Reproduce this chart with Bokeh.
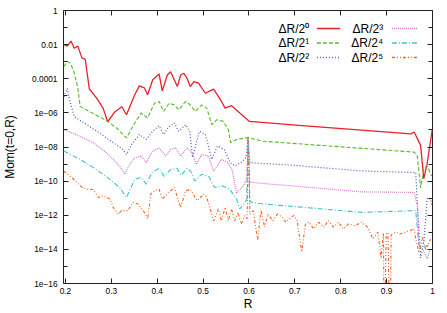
import numpy as np
from bokeh.plotting import figure
from bokeh.models import FixedTicker, LinearAxis, LogAxis, Label, Arrow, Range1d
from bokeh.embed import file_html
from bokeh.resources import INLINE

# ---------------- data (log10 of Mom(t=0,R)) ----------------
r0 = [0.1963, 0.204, 0.212, 0.219, 0.227, 0.236, 0.243, 0.252, 0.268, 0.282, 0.292, 0.308,
      0.323, 0.333, 0.351, 0.361, 0.372, 0.379, 0.390, 0.404, 0.411, 0.422, 0.429, 0.444,
      0.451, 0.458, 0.465, 0.472, 0.480, 0.490, 0.505, 0.512, 0.523, 0.530, 0.540, 0.548,
      0.562, 0.580, 0.601, 0.716, 0.953, 0.960, 0.974, 0.981, 0.988, 0.9994]
m0 = [-2.00, -2.09, -1.79, -2.21, -2.09, -2.79, -2.85, -4.60, -5.14, -5.72, -6.52, -5.93,
      -5.64, -6.11, -4.94, -4.42, -4.54, -4.94, -4.07, -3.72, -4.71, -3.78, -3.59, -4.46,
      -3.78, -3.68, -3.97, -4.46, -4.17, -4.26, -4.85, -4.75, -4.61, -4.90, -5.33, -5.72,
      -5.58, -6.01, -6.50, -6.75, -7.23, -7.12, -7.89, -9.85, -9.02, -7.00]

r1 = [0.1963, 0.204, 0.212, 0.219, 0.227, 0.232, 0.292, 0.312, 0.333, 0.353, 0.365, 0.379,
      0.394, 0.404, 0.414, 0.426, 0.437, 0.447, 0.462, 0.472, 0.483, 0.497, 0.508, 0.519,
      0.530, 0.544, 0.555, 0.560, 0.573, 0.594, 0.609, 0.630, 0.960, 0.967, 0.974, 0.981,
      0.988, 0.998]
m1 = [-3.30, -2.98, -3.14, -3.67, -4.54, -5.62, -6.50, -6.90, -7.47, -6.50, -6.01, -6.30,
      -5.43, -5.33, -5.92, -5.43, -5.53, -5.82, -5.33, -5.53, -5.92, -5.53, -5.72, -6.69,
      -6.40, -6.50, -6.98, -7.75, -7.56, -7.46, -7.52, -7.66, -8.30, -8.55, -10.40, -9.30,
      -9.10, -9.70]

r2 = [0.1963, 0.204, 0.209, 0.215, 0.219, 0.270, 0.325, 0.333, 0.344, 0.361, 0.376, 0.390,
      0.404, 0.414, 0.424, 0.437, 0.447, 0.462, 0.471, 0.477, 0.492, 0.505, 0.519, 0.531,
      0.546, 0.559, 0.570, 0.583, 0.594, 0.598, 0.602, 0.630, 0.695, 0.845, 0.9634, 0.9705,
      0.9742, 0.9813, 0.9886, 0.9957, 0.9994]
m2 = [-5.06, -4.57, -5.24, -5.82, -6.22, -7.10, -8.14, -8.44, -7.85, -7.27, -7.56, -7.08,
      -6.75, -7.27, -6.86, -6.59, -7.08, -6.69, -7.10, -8.61, -7.08, -7.27, -8.73, -7.95,
      -8.14, -8.92, -9.11, -8.90, -8.61, -7.37, -8.92, -8.96, -9.07, -9.40, -9.50, -12.97,
      -14.50, -13.50, -11.00, -11.05, -11.50]

r3 = [0.1963, 0.230, 0.261, 0.290, 0.318, 0.329, 0.340, 0.351, 0.365, 0.376, 0.389, 0.404,
      0.419, 0.429, 0.440, 0.451, 0.465, 0.476, 0.485, 0.497, 0.512, 0.523, 0.540, 0.553,
      0.563, 0.573, 0.587, 0.595, 0.598, 0.602, 0.630, 0.695, 0.845, 0.9598, 0.9671, 0.9705,
      0.9778, 0.9886, 0.9957]
m3 = [-6.98, -7.35, -7.75, -8.35, -9.11, -9.60, -9.02, -8.63, -8.53, -8.92, -8.26, -8.06,
      -8.53, -8.14, -8.05, -8.53, -8.05, -8.34, -9.02, -8.44, -8.53, -9.42, -8.73, -8.90,
      -9.31, -10.70, -10.30, -9.90, -7.37, -10.06, -10.14, -10.28, -10.63, -10.66, -11.44, -13.77,
      -13.96, -14.54, -13.96]

r4 = [0.1963, 0.230, 0.261, 0.290, 0.318, 0.333, 0.351, 0.365, 0.376, 0.389, 0.404, 0.415,
      0.430, 0.443, 0.452, 0.465, 0.473, 0.482, 0.497, 0.512, 0.525, 0.542, 0.558, 0.573,
      0.580, 0.591, 0.595, 0.598, 0.602, 0.609, 0.630, 0.695, 0.845, 0.9634, 0.9705, 0.9778,
      0.9886, 0.9957]
m4 = [-8.24, -8.70, -9.21, -9.75, -10.37, -10.96, -9.89, -9.79, -10.18, -9.48, -9.25, -9.72,
      -9.31, -9.25, -9.66, -9.25, -9.42, -10.00, -9.60, -9.72, -10.37, -10.28, -10.47, -11.05,
      -11.63, -11.25, -11.10, -7.37, -11.20, -11.25, -11.34, -11.48, -11.83, -11.73, -13.77, -13.96,
      -13.77, -13.77]

r5 = [0.1963, 0.218, 0.236, 0.247, 0.261, 0.272, 0.282, 0.297, 0.304, 0.315, 0.322, 0.336,
      0.347, 0.358, 0.372, 0.379, 0.386, 0.394, 0.404, 0.411, 0.426, 0.437, 0.451, 0.462,
      0.472, 0.487, 0.501, 0.508, 0.523, 0.533, 0.540, 0.548, 0.555, 0.562, 0.569, 0.576,
      0.583, 0.591, 0.596, 0.598, 0.602, 0.609, 0.612, 0.619, 0.626, 0.634, 0.641, 0.652,
      0.662, 0.673, 0.680, 0.691, 0.698, 0.705, 0.715, 0.723, 0.731, 0.741, 0.752, 0.763,
      0.773, 0.784, 0.795, 0.806, 0.817, 0.831, 0.845, 0.858, 0.870, 0.881, 0.888, 0.893,
      0.895, 0.899, 0.903, 0.907, 0.910, 0.920, 0.930, 0.940, 0.950, 0.9598, 0.9634, 0.9705,
      0.9778, 0.9849, 0.9957]
m5 = [-9.41, -9.89, -10.37, -10.47, -10.51, -10.96, -10.86, -11.05, -11.54, -11.93, -11.73, -11.73,
      -11.25, -11.34, -11.83, -12.22, -10.76, -10.57, -10.47, -11.05, -10.66, -10.37, -11.54, -10.57,
      -10.47, -11.15, -10.76, -10.96, -12.32, -11.63, -12.32, -11.54, -12.32, -11.63, -12.32, -11.83,
      -12.51, -12.02, -12.20, -7.37, -11.93, -11.73, -12.22, -13.48, -11.63, -12.70, -11.93, -12.32,
      -11.93, -12.12, -12.41, -12.12, -12.02, -12.32, -14.15, -12.51, -12.41, -12.80, -12.41, -12.70,
      -12.32, -12.70, -12.41, -12.80, -12.51, -12.61, -12.41, -12.68, -13.38, -12.99, -14.54, -13.03,
      -20.0, -13.10, -13.00, -20.0, -13.15, -13.00, -13.10, -13.00, -12.90, -12.80, -13.38, -14.20,
      -13.30, -14.00, -13.40]

series_r = [r0, r1, r2, r3, r4, r5]
series_m = [m0, m1, m2, m3, m4, m5]
series_labels = ["ΔR/2⁰", "ΔR/2¹", "ΔR/2²", "ΔR/2³", "ΔR/2⁴", "ΔR/2⁵"]

x_ticks = [0.2, 0.3, 0.4, 0.5, 0.6, 0.7, 0.8, 0.9, 1.0]
x_tick_labels = ["0.2", "0.3", "0.4", "0.5", "0.6", "0.7", "0.8", "0.9", "1"]
y_ticks = [1.0, 1e-2, 1e-4, 1e-6, 1e-8, 1e-10, 1e-12, 1e-14, 1e-16]
y_tick_labels = ["1", "0.01", "0.0001", "1e\u221206", "1e\u221208", "1e\u221210",
                 "1e\u221212", "1e\u221214", "1e\u221216"]
y_minor = [1e-1, 1e-3, 1e-5, 1e-7, 1e-9, 1e-11, 1e-13, 1e-15]

# ---------------- styles ----------------
colors = ["#e8202a", "#5cb82e", "#4658c0", "#d070d0", "#3fbfcf", "#f0602a"]
dashes = ["solid", "4 2", "1 2", "1 1", "5 2 1 2", "3 2 1 2 1 2"]
widths = [1.3, 1.1, 1.2, 1.1, 1.1, 1.1]
FONT = "Liberation Sans"

p = figure(width=447, height=313, x_range=Range1d(0.1957, 1.0), y_range=Range1d(1e-16, 1.0),
           y_axis_type="log", output_backend="svg", toolbar_location=None,
           min_border_left=58, min_border_right=15, min_border_top=10, min_border_bottom=28)
p.styles = {"position": "absolute", "left": "0px", "top": "0px"}
p.grid.visible = False
p.outline_line_color = "#222222"
p.outline_line_width = 1
p.background_fill_color = "white"
p.border_fill_color = "white"

for r, m, c, d, w in zip(series_r, series_m, colors, dashes, widths):
    p.line(np.array(r), 10.0 ** np.array(m), line_color=c, line_dash=d, line_width=w)

xt = FixedTicker(ticks=x_ticks)
yt = FixedTicker(ticks=y_ticks, minor_ticks=y_minor)

xa = p.xaxis[0]
xa.ticker = xt
xa.major_label_overrides = {v: s for v, s in zip(x_ticks, x_tick_labels)}
ya = p.yaxis[0]
ya.ticker = yt
ya.major_label_overrides = {v: s for v, s in zip(y_ticks, y_tick_labels)}
xa.axis_label = "R"
ya.axis_label = "Mom(t=0,R)"

top = LinearAxis(ticker=xt)
right = LogAxis(ticker=yt)
p.add_layout(top, "above")
p.add_layout(right, "right")

for ax in [xa, ya, top, right]:
    ax.axis_line_color = None
    ax.major_tick_in = 5
    ax.major_tick_out = 0
    ax.minor_tick_in = 4
    ax.minor_tick_out = 0
    ax.major_tick_line_color = "#222222"
    ax.minor_tick_line_color = "#222222"
    ax.major_label_text_font = FONT
    ax.major_label_text_font_size = "8.3px"
    ax.major_label_text_color = "black"
    ax.axis_label_text_font = FONT
    ax.axis_label_text_font_size = "12px"
    ax.axis_label_text_font_style = "normal"
    ax.axis_label_text_color = "black"
for ax in [top, right]:
    ax.major_label_text_font_size = "2px"
    ax.major_label_text_color = None
    ax.major_label_standoff = 0
xa.major_label_standoff = 4
ya.major_label_standoff = 6
xa.axis_label_standoff = 0
ya.axis_label_standoff = 12

# ---------------- legend (gnuplot style: text, then sample) ----------------
# frame-relative screen coordinates
rows = [255, 240.5, 226]
cols_text = [245.7, 319.7]
cols_line = [(253.4, 276.7), (328.4, 353.4)]
for i in range(6):
    col, row = divmod(i, 3)
    p.add_layout(Label(x=cols_text[col], y=rows[row], x_units="screen", y_units="screen",
                       text=series_labels[i], text_align="right", text_baseline="middle",
                       text_font=FONT, text_font_size="12px", text_color="black"))
    x0, x1 = cols_line[col]
    p.add_layout(Arrow(x_start=x0, y_start=rows[row], x_end=x1, y_end=rows[row],
                       start_units="screen", end_units="screen", start=None, end=None,
                       line_color=colors[i], line_dash=dashes[i],
                       line_width=widths[i] + 0.2))

open("out.html", "w").write(file_html(p, INLINE))
